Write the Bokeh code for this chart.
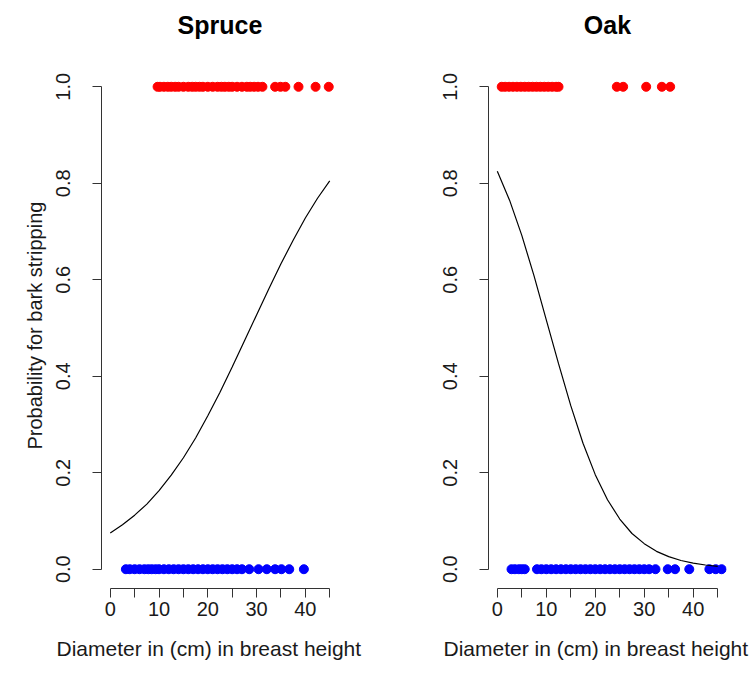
from bokeh.plotting import figure
from bokeh.layouts import row
from bokeh.models import FixedTicker, Range1d, Label, Title
from bokeh.embed import file_html
from bokeh.resources import INLINE

# ---- data ----
spruce_stripped = [9.7, 10.2, 11, 11.8, 12.5, 13.3, 14, 15, 16, 16.8, 17.5, 18.3, 19, 20, 21,
                   22, 22.8, 23.5, 24.3, 25, 26, 27, 28, 28.7, 29.5, 30.3, 31.2,
                   33.8, 34.9, 35.9, 38.6, 42.1, 44.8]
spruce_not = [3.2, 4, 5, 6, 7, 7.8, 8.5, 9.3, 10, 11, 12, 13, 14, 15, 16, 17, 18, 19, 20,
              21, 22, 23, 24, 25, 26, 27.0, 28.5, 30.4, 32.1, 33.8, 35.1, 36.7, 39.7]
oak_stripped = [0.9, 1.6, 2.4, 3.2, 4, 4.8, 5.6, 6.4, 7.2, 8, 8.8, 9.6, 10.4, 11.2, 12, 12.5,
                24.4, 25.7, 30.4, 33.6, 35.3]
oak_not = [2.9, 3.6, 4.4, 5.0, 5.6, 8.1, 9, 10, 11, 12, 13, 14, 15, 16, 17, 18, 19, 20, 21,
           22, 23, 24, 25, 26, 27, 28, 29, 30, 31, 32.3,
           34.8, 36.3, 39.2, 43.3, 44.6, 45.8]

curve_x = [0, 2.5, 5, 7.5, 10, 12.5, 15, 17.5, 20, 22.5, 25, 27.5, 30, 32.5, 35, 37.5, 40, 42.5, 45]
spruce_prob = [0.075, 0.092, 0.112, 0.135, 0.163, 0.195, 0.231, 0.272, 0.318, 0.367, 0.419,
               0.473, 0.527, 0.581, 0.633, 0.682, 0.728, 0.769, 0.805]
oak_prob = [0.825, 0.765, 0.692, 0.608, 0.517, 0.426, 0.339, 0.261, 0.196, 0.144, 0.104,
            0.074, 0.053, 0.037, 0.026, 0.018, 0.0125, 0.0087, 0.006]

x_ticks = [0, 5, 10, 15, 20, 25, 30, 35, 40, 45]
x_tick_labels = ["0", "", "10", "", "20", "", "30", "", "40", ""]
y_ticks = [0, 0.2, 0.4, 0.6, 0.8, 1.0]
y_tick_labels = ["0.0", "0.2", "0.4", "0.6", "0.8", "1.0"]
x_title = "Diameter in (cm) in breast height"
y_title = "Probability for bark stripping"

FONT = "Liberation Sans"
TXT = "#1a1a1a"

H = 686
BOTTOM = 98
PX_PER_UNIT = 482.4
Y_TOP = -0.04 + (H - BOTTOM) / PX_PER_UNIT   # frame reaches up to the page top (room for the title)


def panel(title, stripped, not_stripped, prob, w, left, right, ylabel, xlab_offset):
    p = figure(width=w, height=H, x_range=Range1d(-1.8, 46.8), y_range=Range1d(-0.04, Y_TOP),
               output_backend="svg", toolbar_location=None,
               min_border_left=left, min_border_right=right, min_border_top=0,
               min_border_bottom=BOTTOM)
    p.outline_line_color = None
    p.grid.visible = False
    p.background_fill_color = "white"
    p.border_fill_color = "white"

    xa = p.xaxis[0]
    xa.ticker = FixedTicker(ticks=x_ticks)
    xa.major_label_overrides = {t: l for t, l in zip(x_ticks, x_tick_labels)}
    xa.bounds = (0, 45)

    ya = p.yaxis[0]
    ya.ticker = FixedTicker(ticks=y_ticks)
    ya.major_label_overrides = {t: l for t, l in zip(y_ticks, y_tick_labels)}
    ya.bounds = (0, 1)
    ya.major_label_orientation = "vertical"

    for ax in (xa, ya):
        ax.minor_tick_line_color = None
        ax.major_tick_out = 9
        ax.major_tick_in = 0
        ax.axis_line_color = "#333333"
        ax.major_tick_line_color = "#333333"
        ax.major_label_text_font = FONT
        ax.major_label_text_font_size = "20px"
        ax.major_label_text_color = TXT
    xa.major_label_standoff = 4
    ya.major_label_standoff = 22

    # main title (inside the upward-extended frame, above the data region)
    p.add_layout(Label(x=22.5, y=Y_TOP - 24 / PX_PER_UNIT, text=title, text_align="center",
                       text_baseline="middle", text_font=FONT, text_font_size="25px",
                       text_font_style="bold", text_color="black"))

    # x-axis title below the tick labels
    xt = Title(text=x_title, align="left", offset=xlab_offset, standoff=36,
               vertical_align="top",
               text_font=FONT, text_font_size="21px", text_font_style="normal",
               text_color=TXT)
    p.add_layout(xt, "below")

    if ylabel:
        yt = Title(text=ylabel, align="left", offset=139, standoff=16,
                   vertical_align="bottom",
                   text_font=FONT, text_font_size="20px", text_font_style="normal",
                   text_color=TXT)
        p.add_layout(yt, "left")

    p.scatter(stripped, [1] * len(stripped), size=9, color="#ff0000")
    p.scatter(not_stripped, [0] * len(not_stripped), size=9, color="#0000ff")
    p.line(curve_x, prob, line_color="black", line_width=1.2)
    return p


p1 = panel("Spruce", spruce_stripped, spruce_not, spruce_prob, 380, 101, 42, y_title, -45)
p2 = panel("Oak", oak_stripped, oak_not, oak_prob, 373, 108, 27, "", -45)

layout = row(p1, p2)
open("out.html", "w").write(file_html(layout, INLINE))
